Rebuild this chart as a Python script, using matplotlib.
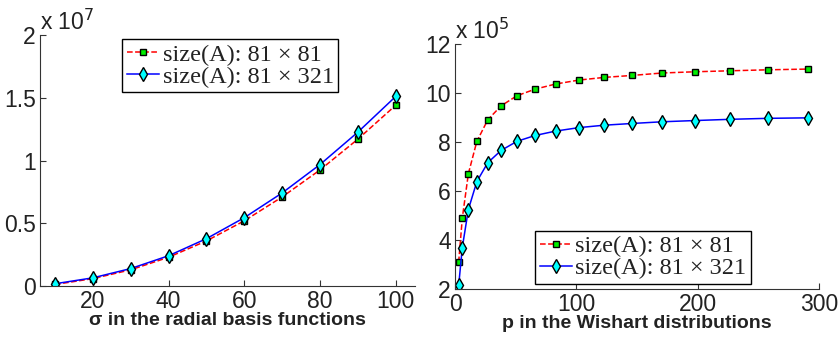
import numpy as np
import matplotlib
matplotlib.use('Agg')
import matplotlib.pyplot as plt

plt.rcParams['font.family'] = ['Liberation Sans', 'DejaVu Sans']

# left panel: sigma in the radial basis functions (values in 1e7)
sigma = [10, 20, 30, 40, 50, 60, 70, 80, 90, 100]
sq_81 = [0.013, 0.060, 0.130, 0.230, 0.360, 0.520, 0.710, 0.925, 1.170, 1.440]
sq_321 = [0.019, 0.066, 0.140, 0.242, 0.378, 0.545, 0.742, 0.968, 1.226, 1.510]

# right panel: p in the Wishart distributions (values in 1e5)
p_vals = [3, 6, 11, 18, 27, 38, 51, 66, 83, 102, 123, 146, 171, 198, 227, 258, 291]
w_81 = [3.10, 4.90, 6.71, 8.03, 8.91, 9.48, 9.89, 10.16, 10.37, 10.53,
        10.64, 10.72, 10.82, 10.87, 10.91, 10.95, 10.98]
w_321 = [2.15, 3.70, 5.25, 6.39, 7.16, 7.66, 8.03, 8.27, 8.45, 8.59,
         8.69, 8.76, 8.83, 8.88, 8.93, 8.97, 8.99]

labels = ['size(A): 81 × 81', 'size(A): 81 × 321']


def style_axes(ax):
    for s in ['top', 'right']:
        ax.spines[s].set_visible(False)
    for s in ['left', 'bottom']:
        ax.spines[s].set_color('#333333')
        ax.spines[s].set_linewidth(0.8)
    ax.tick_params(direction='in', length=4, width=0.8, colors='#333333',
                   labelsize=16.5, labelcolor='#222222', pad=3)


def draw(ax, x, a, b):
    ax.plot(x, a, '--', color='red', lw=1.1, marker='s', ms=5,
            mfc='#00ee00', mec='black', mew=1.0, label=labels[0])
    ax.plot(x, b, '-', color='blue', lw=1.1, marker='d', ms=7,
            mfc='cyan', mec='black', mew=1.0, label=labels[1])


def add_legend(ax, loc, anchor):
    leg = ax.legend(loc=loc, bbox_to_anchor=anchor,
                    prop={'family': ['Liberation Serif', 'DejaVu Serif'], 'size': 17.5},
                    handlelength=1.3, handletextpad=0.15, borderpad=0.2,
                    labelspacing=0.0, borderaxespad=0, fancybox=False,
                    framealpha=1, edgecolor='black')
    leg.get_frame().set_linewidth(1.0)
    for t in leg.get_texts():
        t.set_color('#222222')
    return leg


fig = plt.figure(figsize=(8.4, 3.39), dpi=100)

ax1 = fig.add_axes([0.0476, 0.156, 0.446, 0.741])
draw(ax1, sigma, sq_81, sq_321)
ax1.set_xlim(6, 105)
ax1.set_ylim(0, 2)
ax1.set_xticks([20, 40, 60, 80, 100])
ax1.set_yticks([0, 0.5, 1, 1.5, 2])
ax1.set_yticklabels(['0', '0.5', '1', '1.5', '2'])
style_axes(ax1)
ax1.set_xlabel('σ in the radial basis functions', fontsize=14,
               fontweight='bold', labelpad=-1, color='#222222')
ax1.text(0.0, 1.0, r'x 10$^{7}$', transform=ax1.transAxes, fontsize=16.5,
         color='#222222', ha='left', va='bottom')
add_legend(ax1, 'upper left', (0.22, 0.985))

ax2 = fig.add_axes([0.5417, 0.147, 0.433, 0.723])
draw(ax2, p_vals, w_81, w_321)
ax2.set_xlim(0, 300)
ax2.set_ylim(2, 12)
ax2.set_xticks([0, 100, 200, 300])
ax2.set_yticks([2, 4, 6, 8, 10, 12])
style_axes(ax2)
ax2.set_xlabel('p in the Wishart distributions', fontsize=14,
               fontweight='bold', labelpad=-1, color='#222222')
ax2.text(0.0, 1.0, r'x 10$^{5}$', transform=ax2.transAxes, fontsize=16.5,
         color='#222222', ha='left', va='bottom')
add_legend(ax2, 'lower left', (0.22, 0.02))

fig.savefig('out.png', dpi=100)
